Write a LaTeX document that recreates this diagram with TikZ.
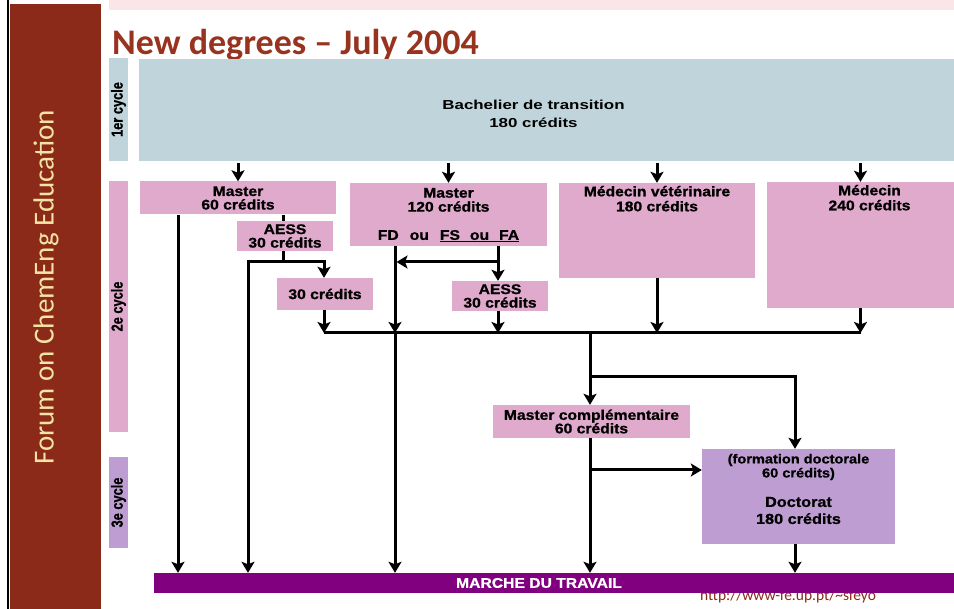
\documentclass[tikz,border=0pt]{standalone}
\usepackage{fontspec}
\setmainfont{Liberation Sans}
\newfontfamily\slidefont{Carlito}
\newfontfamily\boxfont[FakeStretch=1.12,FakeBold=1]{Liberation Sans}
\newfontfamily\bachfont[FakeStretch=1.3]{Liberation Sans}
\newfontfamily\cyclefont[FakeStretch=0.8,FakeBold=0.8]{Liberation Sans}
\usepackage{tikz}
\usetikzlibrary{positioning,arrows.meta}
\definecolor{Rust}{HTML}{8B2A18}
\definecolor{TitleRed}{HTML}{97331F}
\definecolor{Cream}{HTML}{F3E3A4}
\definecolor{Blush}{HTML}{FBE5E7}
\definecolor{Steel}{HTML}{BFD4DB}
\definecolor{Orchid}{HTML}{E0AACC}
\definecolor{Lilac}{HTML}{BE9ED2}
\definecolor{Plum}{HTML}{800080}

\begin{document}
\begin{tikzpicture}[x=1pt,y=-1pt,
  box/.style={fill=Orchid,inner sep=0pt,align=center,font=\boxfont\bfseries\fontsize{14}{13.5}\selectfont},
  txt/.style={inner sep=0pt,align=center,font=\boxfont\bfseries\fontsize{14}{15}\selectfont},
  cyclebar/.style={rotate=90,inner sep=0pt,minimum height=19pt,font=\cyclefont\bfseries\fontsize{16}{16}\selectfont},
  link/.style={line width=3pt},
  arr/.style={link,-{Stealth[length=11pt,width=13pt,inset=2.5pt]}}]
  \useasboundingbox (0,0) rectangle (954,609);
  % slide frame
  \draw[line width=2pt] (8,0) -- (8,609);
  \fill[Rust] (10,4) rectangle (101,609);
  \fill[Blush] (109,0) rectangle (954,10);
  \node[rotate=90,text=Cream,font=\slidefont\fontsize{29}{29}\selectfont] (forum) at (46,287.5) {Forum on ChemEng Education};
  \node[anchor=base west,inner sep=0pt,text=TitleRed,font=\slidefont\bfseries\fontsize{36}{36}\selectfont] (title) at (112,55) {New degrees – July 2004};
  \node[anchor=base west,inner sep=0pt,text=Rust,font=\slidefont\fontsize{15.5}{15.5}\selectfont] (url) at (700,601) {http://www-fe.up.pt/\textasciitilde sfeyo};

  % cycles
  \node[cyclebar,fill=Steel,minimum width=103pt] (cyc1) at (118.5,109.5) {1er cycle};
  \node[cyclebar,fill=Orchid,minimum width=251pt] (cyc2) at (118.5,306.5) {2e cycle};
  \node[cyclebar,fill=Lilac,minimum width=91pt] (cyc3) at (118.5,502.5) {3e cycle};

  % degrees
  \node[fill=Steel,minimum width=815pt,minimum height=102pt,
    label={[align=center,font=\bachfont\bfseries\fontsize{13}{18}\selectfont,xshift=-13pt,yshift=-3.5pt]center:{Bachelier de transition\\180 crédits}}] (bach) at (546.5,110) {};
  \node[box,minimum width=196pt,minimum height=33pt] (m60) at (238,198) {Master\\60 crédits};
  \node[box,minimum width=96pt,minimum height=30pt] (aessl) at (285,236) {AESS\\30 crédits};
  \node[box,minimum width=197pt,minimum height=63pt,
    label={[txt,font=\boxfont\bfseries\fontsize{14}{14}\selectfont,anchor=north,yshift=-5pt]north:{Master\\120 crédits}},
    label={[txt,anchor=south,yshift=4pt]south:{FD\hspace{11pt}ou\hspace{11pt}\underline{FS\hspace{10pt}ou\hspace{10pt}FA}}}] (m120) at (448.5,214.5) {};
  \node[box,minimum width=96pt,minimum height=32pt] (c30) at (325,294) {30 crédits};
  \node[box,minimum width=96pt,minimum height=30pt] (aessr) at (500,296) {AESS\\30 crédits};
  \node[box,minimum width=196pt,minimum height=95pt,
    label={[txt,anchor=north,yshift=-3pt]north:{Médecin vétérinaire\\180 crédits}}] (vet) at (657,230.5) {};
  \node[box,minimum width=187pt,minimum height=126pt,
    label={[txt,anchor=north,xshift=9pt,yshift=-3pt]north:{Médecin\\240 crédits}}] (med) at (860.5,245) {};
  \node[box,minimum width=197pt,minimum height=33pt] (mcompl) at (591.5,421.5) {Master complémentaire\\60 crédits};
  \node[box,fill=Lilac,minimum width=193pt,minimum height=95pt,
    label={[txt,font=\boxfont\bfseries\fontsize{13}{14}\selectfont,anchor=north,yshift=-5pt]north:{(formation doctorale\\60 crédits)}},
    label={[txt,font=\boxfont\bfseries\fontsize{14.5}{17}\selectfont,yshift=-14pt]center:{Doctorat\\180 crédits}}] (doct) at (798.5,496.5) {};
  \node[fill=Plum,inner sep=0pt,minimum width=800pt,minimum height=20pt,
    label={[text=white,font=\boxfont\bfseries\fontsize{14}{14}\selectfont,xshift=-15pt]center:{MARCHE DU TRAVAIL}}] (marche) at (554,583) {};

  % columns and rows of the connectors
  \coordinate (colA) at (178,0);
  \coordinate (colB) at (248,0);
  \coordinate (colC) at (283,0);
  \coordinate (colD) at (324,0);
  \coordinate (colE) at (395,0);
  \coordinate (colF) at (498,0);
  \coordinate (colG) at (590,0);
  \coordinate (colH) at (795,0);
  \coordinate (rowA) at (0,262);
  \coordinate (rowB) at (0,333);
  \coordinate (rowC) at (0,377);
  \coordinate (rowD) at (0,470);

  % from the bachelier
  \foreach \b in {m60,m120,vet,med}
    \draw[arr,shorten <=2pt] (bach.south -| \b.north) -- (\b.north);
  % master 60
  \draw[arr] (m60.south -| colA) -- (marche.north -| colA);
  \draw[link] (m60.south -| colC) -- (aessl.north -| colC);
  \draw[link] (aessl.south -| colC) -- (colC |- rowA);
  \draw[arr] (colD |- rowA) -- (colB |- rowA) -- (marche.north -| colB);
  \draw[arr] (colC |- rowA) -- (colD |- rowA) -- (c30.north -| colD);
  \draw[arr] (c30.south -| colD) -- (colD |- rowB);
  % master 120
  \draw[arr] (m120.south -| colE) -- (colE |- rowB);
  \draw[arr] (colE |- rowB) -- (marche.north -| colE);
  \draw[arr] (m120.south -| colF) -- (aessr.north -| colF);
  \draw[arr,shorten >=1.5pt] (colF |- rowA) -- (colE |- rowA);
  \draw[arr] (aessr.south -| colF) -- (colF |- rowB);
  % medecine
  \draw[arr] (vet.south) -- (vet.south |- rowB);
  \draw[arr] (med.south) -- (med.south |- rowB);
  \draw[link] (colD |- rowB) -- (med.south |- rowB);
  % master complementaire, doctorat
  \draw[arr] (colG |- rowB) -- (mcompl.north -| colG);
  \draw[arr] (colG |- rowC) -- (colH |- rowC) -- (doct.north -| colH);
  \draw[arr] (mcompl.south -| colG) -- (marche.north -| colG);
  \draw[arr] (colG |- rowD) -- (doct.west |- rowD);
  \draw[arr] (doct.south -| colH) -- (marche.north -| colH);
\end{tikzpicture}
\end{document}
